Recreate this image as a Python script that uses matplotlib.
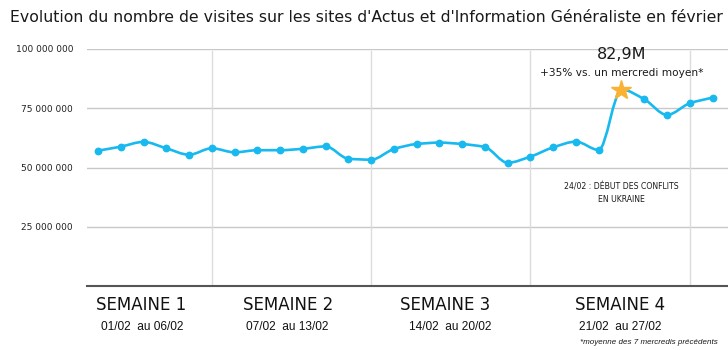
import numpy as np
import matplotlib
matplotlib.use("Agg")
import matplotlib.pyplot as plt
from matplotlib.path import Path
from matplotlib.patches import PathPatch
from matplotlib.ticker import FuncFormatter

# Daily visits, 1 to 28 February
days = list(range(1, 29))
visits = [57.1, 58.8, 60.8, 58.1, 55.4, 58.1, 56.4, 57.3, 57.3, 57.9,
          58.9, 53.7, 53.3, 57.8, 59.9, 60.5, 59.9, 58.6, 52.0, 54.6,
          58.5, 60.9, 57.4, 82.9, 78.8, 72.2, 77.1, 79.5]  # millions
peak_day = 24
week_ends = [6, 13, 20, 27]
week_titles = ["SEMAINE 1", "SEMAINE 2", "SEMAINE 3", "SEMAINE 4"]
week_ranges = ["01/02  au 06/02", "07/02  au 13/02", "14/02  au 20/02", "21/02  au 27/02"]
y_ticks = [25, 50, 75, 100]

LINE = "#17b9ef"
STAR = "#f9b233"
TXT = "#1a1a1a"


def smooth_path(x, y):
    # monotone cubic (Fritsch-Carlson) as bezier segments
    x = np.asarray(x, float)
    y = np.asarray(y, float)
    h = np.diff(x)
    d = np.diff(y) / h
    m = np.zeros_like(y)
    m[0], m[-1] = d[0], d[-1]
    for i in range(1, len(y) - 1):
        if d[i - 1] * d[i] <= 0:
            m[i] = 0
        else:
            m[i] = 2 / (1 / d[i - 1] + 1 / d[i])
    verts = [(x[0], y[0])]
    codes = [Path.MOVETO]
    for i in range(len(x) - 1):
        verts += [(x[i] + h[i] / 3, y[i] + m[i] * h[i] / 3),
                  (x[i + 1] - h[i] / 3, y[i + 1] - m[i + 1] * h[i] / 3),
                  (x[i + 1], y[i + 1])]
        codes += [Path.CURVE4] * 3
    return Path(verts, codes)


plt.rcParams['font.family'] = ['DejaVu Sans']
fig = plt.figure(figsize=(7.28, 3.5), dpi=100)
ax = fig.add_axes([87 / 728, 64 / 350, 641 / 728, 237 / 350])

ax.set_xlim(0.517, 28.68)
ax.set_ylim(0, 100)

for v in y_ticks:
    ax.axhline(v, color="#c8c8c8", lw=1, zorder=1)
for d in week_ends:
    ax.axvline(d, ymin=0, ymax=0.99, color="#dcdcdc", lw=1, zorder=1)

ax.add_patch(PathPatch(smooth_path(days, visits), fill=False, edgecolor=LINE,
                       lw=1.9, zorder=3, capstyle="round"))
dot_days = [d for d in days if d != peak_day]
dot_vals = [v for d, v in zip(days, visits) if d != peak_day]
ax.plot(dot_days, dot_vals, "o", color=LINE, ms=4.6, zorder=4)
pv = visits[days.index(peak_day)]
ax.plot([peak_day], [pv], "*", color=STAR, ms=15, zorder=5)

ax.text(peak_day, 97.5, f"{pv:.1f}M".replace(".", ","), ha="center", va="center",
        fontsize=11.5, color=TXT)
ax.text(peak_day, 90.0, "+35% vs. un mercredi moyen*", ha="center", va="center",
        fontsize=7.6, color=TXT)
ax.text(peak_day, 39.2, "24/02 : DÉBUT DES CONFLITS\nEN UKRAINE", ha="center", va="center",
        fontsize=5.6, color=TXT, linespacing=1.45)

for s in ["top", "right", "left"]:
    ax.spines[s].set_visible(False)
ax.spines["bottom"].set_color("#555555")
ax.spines["bottom"].set_linewidth(1.5)
ax.set_xticks([])
ax.set_yticks(y_ticks)
ax.yaxis.set_major_formatter(FuncFormatter(lambda v, p: f"{int(v * 1e6):,}".replace(",", " ")))
ax.tick_params(axis="y", length=0, pad=10, labelsize=6.5, labelcolor="#222222")

fig.text(10 / 728, 1 - 18 / 350, "Evolution du nombre de visites sur les sites d'Actus et d'Information Généraliste en février",
         ha="left", va="center", fontsize=11.3, color=TXT)

week_x = [141, 288, 445, 620]
date_x = [142, 287, 450, 620]
for wx, dx, t, r in zip(week_x, date_x, week_titles, week_ranges):
    fig.text(wx / 728, 1 - 305 / 350, t, ha="center", va="center", fontsize=12, color="#111111")
    fig.text(dx / 728, 1 - 327 / 350, r, ha="center", va="center", fontsize=8.6,
             family="Liberation Sans", color="#111111")
fig.text(718 / 728, 1 - 342 / 350, "*moyenne des 7 mercredis précédents", ha="right", va="center",
         fontsize=5.8, style="italic", family="Liberation Sans", color=TXT)

fig.savefig("out.png", dpi=100)
